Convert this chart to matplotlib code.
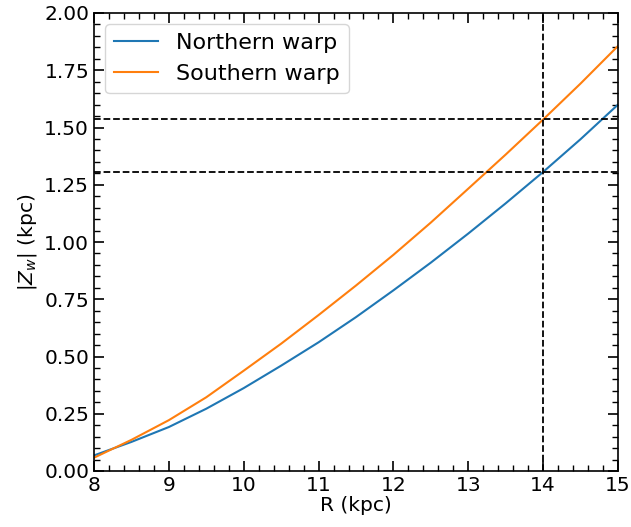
import numpy as np
import matplotlib
matplotlib.use('Agg')
import matplotlib.pyplot as plt
from matplotlib.ticker import MultipleLocator

# Values
R = [8, 8.5, 9, 9.5, 10, 10.5, 11, 11.5, 12, 12.5, 13, 13.5, 14, 14.5, 15]
z_north = [0.068, 0.127, 0.192, 0.272, 0.362, 0.460, 0.562, 0.672, 0.789,
           0.910, 1.037, 1.169, 1.306, 1.449, 1.600]
z_south = [0.058, 0.136, 0.222, 0.322, 0.438, 0.556, 0.681, 0.810, 0.944,
           1.085, 1.233, 1.382, 1.535, 1.692, 1.856]
R_mark = 14
z_mark = [1.306, 1.535]

fig = plt.figure(figsize=(6.31, 5.27), dpi=100)
ax = fig.add_axes([94/631, 1 - 471/527, (618 - 94)/631, (471 - 13)/527])

ax.plot(R, z_north, color='tab:blue', lw=1.5, label='Northern warp')
ax.plot(R, z_south, color='tab:orange', lw=1.5, label='Southern warp')
ax.axvline(R_mark, color='k', ls='--', lw=1.3)
for z in z_mark:
    ax.axhline(z, color='k', ls='--', lw=1.3)

ax.set_xlim(8, 15)
ax.set_ylim(0, 2)
ax.xaxis.set_major_locator(MultipleLocator(1))
ax.xaxis.set_minor_locator(MultipleLocator(0.2))
ax.yaxis.set_major_locator(MultipleLocator(0.25))
ax.yaxis.set_minor_locator(MultipleLocator(0.05))
ax.tick_params(which='both', direction='in', top=True, right=True, labelsize=14.5)
ax.tick_params(which='major', length=7, width=1.2)
ax.tick_params(which='minor', length=4, width=1.0)
for s in ax.spines.values():
    s.set_linewidth(1.2)

ax.set_xlabel('R (kpc)', fontsize=14.5, labelpad=1)
ax.set_ylabel(r'$|Z_w|$ (kpc)', fontsize=14.5)
ax.legend(loc='upper left', fontsize=16)

plt.savefig('out.png', dpi=100)
